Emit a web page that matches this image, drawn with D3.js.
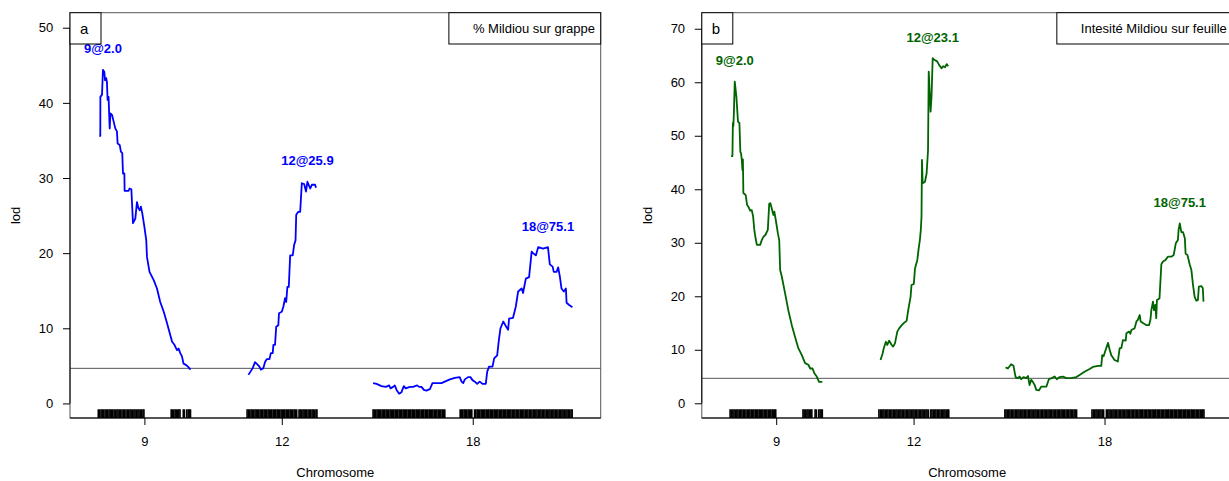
<!DOCTYPE html>
<html><head><meta charset="utf-8">
<script src="https://cdn.jsdelivr.net/npm/d3@7"></script>
<style>
body{margin:0;background:#fff;}
svg{display:block;font-family:"Liberation Sans",Arial,Helvetica,sans-serif;}
</style>
</head><body>
<svg id="chart" width="1229" height="481"></svg>
<script>
// ---------------- DATA ----------------
const chromosomes = ["9", "12", "18"];
const chromLengths = [39.6, 29.8, 85.6];   // cM
const chromGap = 24.3;                      // cM between chromosomes
const threshold = 4.67;

const markers9 = [0.0,0.6,1.2,1.7,2.3,2.9,3.4,4.0,4.6,5.1,5.7,6.2,6.8,7.4,8.0,8.5,9.1,9.6,10.2,10.8,11.3,11.9,12.5,13.0,13.6,14.1,14.7,15.3,15.8,16.4,17.0,17.5,18.1,18.6,19.2,19.6,
  31.3,31.8,32.4,33.0,33.5,34.1,34.6,35.1,36.5,37.0,38.0,38.6,39.1,39.6];
const markers12 = [0.0,0.6,1.1,1.7,2.2,2.8,3.4,3.9,4.5,5.0,5.6,6.2,6.7,7.3,7.8,8.4,9.0,9.5,10.1,10.6,11.2,11.8,12.3,12.9,13.4,14.0,14.6,15.1,15.7,16.2,16.8,17.4,17.9,18.5,19.0,19.6,20.2,20.7,21.3,
  22.3,22.8,23.4,24.0,24.5,25.1,25.6,26.2,26.8,27.3,27.9,28.4,29.0,29.6,30.0];
const markers18 = [0.0,0.5,1.1,1.7,2.2,2.8,3.3,3.9,4.5,5.0,5.6,6.1,6.7,7.3,7.8,8.4,8.9,9.5,10.1,10.6,11.2,11.7,12.3,12.9,13.4,14.0,14.5,15.1,15.7,16.2,16.8,17.3,17.9,18.5,19.0,19.6,20.1,20.7,21.3,21.8,22.4,22.9,23.5,24.1,24.6,25.2,25.7,26.3,26.9,27.4,28.0,28.5,29.1,29.7,30.2,30.8,
  37.4,38.0,38.5,39.1,39.6,40.2,40.8,41.3,41.9,42.4,43.6,44.1,44.7,45.2,45.8,46.4,46.9,47.5,48.0,48.6,49.2,49.7,50.3,50.8,51.4,52.0,52.5,53.1,53.6,54.2,54.8,55.3,55.9,56.4,57.0,57.6,58.1,58.7,59.2,59.8,60.4,60.9,61.5,62.0,62.6,63.2,63.7,64.3,64.8,65.4,66.0,66.5,67.1,67.6,68.2,68.8,69.3,69.9,70.4,71.0,71.6,72.1,72.7,73.2,73.8,74.4,74.9,75.5,76.0,76.6,77.2,77.7,78.3,78.8,79.4,80.0,80.5,81.1,81.6,82.2,82.8,83.3,83.9,84.4,85.0,85.5];

// panel a : % Mildiou sur grappe  [cM, lod]
const grappe9 = [[0.43,35.6],[0.86,35.6],[0.9,40.8],[1.6,41.1],[2.0,44.4],[2.6,44.1],[2.9,43.0],[3.4,43.3],[3.7,42.8],[4.0,40.4],[4.4,40.8],[4.9,36.6],[5.2,38.6],[5.9,38.4],[6.6,37.5],[7.3,36.6],[8.0,36.2],[8.3,34.6],[9.2,34.4],[9.7,33.5],[10.3,33.3],[10.6,30.6],[11.2,30.6],[11.3,28.3],[13.0,28.3],[13.4,28.6],[14.2,28.5],[14.9,24.0],[15.9,24.6],[16.6,26.8],[17.2,26.0],[17.8,25.7],[18.3,26.2],[18.9,25.3],[19.8,23.5],[20.6,21.7],[20.9,19.5],[22.0,17.5],[23.8,16.4],[25.2,15.3],[26.6,13.5],[28.1,12.2],[29.5,10.7],[30.9,9.1],[31.7,8.2],[32.7,7.8],[33.8,7.1],[34.5,7.3],[35.2,6.7],[35.9,6.3],[36.6,5.3],[37.8,5.1],[38.8,4.8],[39.6,4.5]];
const grappe12 = [[0.56,3.8],[1.6,4.3],[2.4,4.7],[3.4,5.5],[4.4,5.2],[5.3,4.9],[5.9,4.5],[7.0,4.7],[7.7,5.5],[8.5,5.9],[9.6,5.9],[10.2,6.7],[11.0,6.7],[11.3,7.8],[12.0,7.8],[12.5,10.2],[13.4,10.4],[13.7,12.0],[14.9,12.2],[15.6,12.9],[16.3,14.0],[16.8,13.5],[17.3,15.5],[17.9,15.5],[18.5,19.7],[19.6,19.7],[20.2,21.1],[20.8,21.7],[21.1,25.1],[22.0,25.5],[22.8,25.5],[23.5,29.3],[24.5,29.2],[25.3,28.2],[25.9,29.5],[27.1,28.6],[27.8,29.1],[29.2,29.1],[29.6,28.7]];
const grappe18 = [[0.0,2.7],[1.5,2.6],[3.6,2.3],[5.5,2.2],[6.9,2.4],[7.5,2.0],[8.6,2.2],[9.3,2.4],[10.1,1.8],[11.2,1.3],[12.2,1.5],[13.2,2.3],[14.0,2.0],[15.8,2.2],[17.2,2.2],[18.9,2.4],[19.8,2.2],[20.8,2.2],[21.8,1.8],[22.9,1.7],[24.4,1.9],[25.5,2.7],[27.2,2.7],[29.4,2.7],[30.8,2.9],[33.0,3.2],[35.1,3.4],[37.2,3.5],[38.0,2.9],[38.7,2.7],[39.4,3.2],[40.8,3.5],[41.8,3.5],[42.7,3.1],[43.7,2.9],[44.7,2.6],[45.8,2.9],[47.0,2.6],[48.4,2.6],[49.0,4.2],[49.8,4.9],[51.3,4.9],[52.0,6.0],[53.3,6.4],[54.0,8.4],[54.7,10.0],[55.9,10.9],[57.0,10.3],[58.0,9.8],[58.4,11.3],[60.1,11.4],[61.3,12.9],[62.3,14.9],[63.8,15.3],[64.4,14.7],[65.6,16.6],[67.0,16.8],[68.1,20.2],[68.7,20.0],[69.9,19.7],[70.9,20.8],[73.0,20.6],[75.1,20.8],[75.9,18.5],[77.1,18.2],[77.6,17.5],[78.8,17.5],[79.5,18.1],[80.2,16.9],[80.9,15.3],[81.9,14.9],[82.8,15.3],[83.1,13.4],[84.2,13.1],[85.6,12.8]];

// panel b : Intesité Mildiou sur feuille  [cM, lod]
const feuille9 = [[0.43,46.2],[1.0,46.2],[1.2,52.4],[1.4,51.8],[1.6,53.9],[2.0,60.1],[2.7,57.3],[3.4,52.6],[4.0,52.4],[4.4,47.0],[4.7,46.7],[5.0,45.6],[5.3,43.6],[5.5,45.6],[5.7,39.3],[6.7,38.9],[7.3,37.1],[7.9,36.7],[8.6,36.0],[9.3,36.1],[9.9,34.9],[10.4,32.4],[11.0,30.7],[11.5,29.6],[12.9,29.6],[13.6,30.5],[14.3,31.1],[15.2,31.5],[16.2,32.4],[16.8,37.3],[17.3,37.4],[17.9,36.4],[18.6,35.2],[19.0,35.8],[19.6,34.3],[20.5,31.8],[21.1,30.5],[21.5,24.9],[22.2,23.7],[23.6,20.6],[25.0,17.4],[26.5,14.6],[27.9,12.4],[29.3,10.3],[30.8,9.0],[32.2,7.5],[33.6,7.2],[34.4,6.5],[35.4,6.5],[36.2,5.6],[37.2,5.0],[38.2,4.0],[39.6,4.0]];
const feuille12 = [[0.7,8.1],[1.6,9.3],[2.1,10.3],[3.0,11.5],[3.6,10.9],[4.4,11.7],[5.5,10.9],[6.1,10.6],[6.9,11.2],[7.9,13.4],[8.7,14.0],[9.8,14.6],[10.7,15.0],[11.9,15.4],[12.6,17.4],[13.6,19.9],[14.0,22.1],[15.0,22.3],[15.5,25.2],[16.5,26.8],[17.1,29.0],[17.6,30.5],[18.0,32.4],[18.3,34.9],[18.5,45.5],[18.8,41.1],[19.8,41.4],[20.5,43.0],[21.1,47.3],[21.4,62.0],[21.9,57.3],[22.2,54.5],[22.6,57.3],[23.1,64.5],[23.8,64.2],[25.0,63.9],[25.9,63.2],[26.9,62.6],[27.6,63.0],[28.4,62.8],[29.1,63.4],[29.8,63.0]];
const feuille18 = [[0.3,6.7],[1.3,6.5],[2.7,7.3],[3.7,7.0],[4.6,4.9],[5.6,4.7],[6.3,5.0],[7.0,4.5],[8.0,4.9],[9.2,4.7],[9.9,5.1],[10.6,3.4],[11.3,4.4],[12.0,4.0],[12.8,3.4],[13.5,2.5],[14.6,2.4],[15.6,3.1],[16.6,3.1],[17.8,3.1],[18.9,4.5],[20.1,4.7],[21.4,5.0],[22.3,4.5],[23.5,4.9],[24.9,5.0],[26.4,4.7],[28.5,4.7],[30.7,4.9],[32.1,5.3],[34.2,5.9],[36.4,6.4],[37.8,6.8],[40.0,7.0],[41.4,7.0],[41.8,9.0],[42.4,8.8],[43.3,10.0],[44.3,11.3],[45.0,10.0],[45.7,9.0],[47.1,8.1],[48.5,7.8],[49.3,10.3],[50.0,10.3],[50.7,11.8],[51.9,11.7],[52.2,13.1],[53.3,13.4],[53.9,13.0],[54.3,13.7],[55.7,14.0],[56.5,15.3],[57.1,15.6],[57.9,16.5],[58.3,15.3],[59.3,15.0],[60.8,14.6],[61.9,14.6],[62.5,15.6],[62.9,17.4],[63.6,19.0],[64.0,17.4],[64.6,18.4],[65.0,15.9],[65.3,19.3],[66.4,19.6],[67.2,26.0],[67.9,26.5],[69.0,26.8],[70.0,27.4],[71.5,27.4],[72.5,27.7],[73.4,29.9],[74.3,30.5],[74.6,32.4],[75.1,33.6],[75.8,32.0],[76.5,32.0],[77.3,30.8],[77.6,28.0],[78.4,27.7],[79.4,25.9],[80.1,24.9],[80.8,22.1],[81.5,19.9],[82.2,19.2],[82.9,19.3],[83.3,21.8],[84.4,21.9],[85.0,21.5],[85.3,19.0]];

const grappePeaks = [["9",2.0,44.4],["12",25.9,29.5],["18",75.1,20.8]];
const feuillePeaks = [["9",2.0,60.1],["12",23.1,64.5],["18",75.1,33.6]];
const grappeYTicks = [0,10,20,30,40,50];
const feuilleYTicks = [0,10,20,30,40,50,60,70];
const grappeYDomain = [-1.94, 52.0];
const feuilleYDomain = [-2.75, 73.0];
const grappeTitle = "% Mildiou sur grappe";
const feuilleTitle = "Intesité Mildiou sur feuille";
const xLabel = "Chromosome";
const yLabel = "lod";

// ---------------- LAYOUT ----------------
const svg = d3.select("#chart");
const plotW = 530.7, plotH = 405.3, plotTop = 12.7;
const markersByChr = [markers9, markers12, markers18];
const offsets = [];
let acc = 0;
chromLengths.forEach((L) => { offsets.push(acc); acc += L + chromGap; });
const totalEnd = acc - chromGap;

const panels = [
  {left: 70, letter: "a", color: "#0000ff", title: grappeTitle, curves: [grappe9, grappe12, grappe18],
   peaks: grappePeaks, yTicks: grappeYTicks, yDomain: grappeYDomain},
  {left: 701.8, letter: "b", color: "#006400", title: feuilleTitle, curves: [feuille9, feuille12, feuille18],
   peaks: feuillePeaks, yTicks: feuilleYTicks, yDomain: feuilleYDomain}
];

panels.forEach(p => {
  const g = svg.append("g").attr("transform", `translate(${p.left},${plotTop})`);
  const x = d3.scaleLinear().domain([-chromGap / 2, totalEnd + chromGap / 2]).range([0, plotW]);
  const y = d3.scaleLinear().domain(p.yDomain).range([plotH, 0]);
  const chrIdx = c => chromosomes.indexOf(c);

  // box
  g.append("rect").attr("x", 0).attr("y", 0).attr("width", plotW).attr("height", plotH)
    .attr("fill", "none").attr("stroke", "#555").attr("stroke-width", 1);

  // threshold
  g.append("line").attr("x1", 0).attr("x2", plotW).attr("y1", y(threshold)).attr("y2", y(threshold))
    .attr("stroke", "#555").attr("stroke-width", 1);

  // rug
  markersByChr.forEach((ms, i) => {
    g.append("g").selectAll("line").data(ms).join("line")
      .attr("x1", d => x(offsets[i] + d)).attr("x2", d => x(offsets[i] + d))
      .attr("y1", plotH - 8.7).attr("y2", plotH)
      .attr("stroke", "#000").attr("stroke-width", 1.6);
  });

  // curves
  p.curves.forEach((c, i) => {
    const line = d3.line().x(d => x(offsets[i] + d[0])).y(d => y(d[1]));
    g.append("path").datum(c).attr("d", line).attr("fill", "none")
      .attr("stroke", p.color).attr("stroke-width", 1.8).attr("stroke-linejoin", "round");
  });

  // peak labels
  g.append("g").selectAll("text").data(p.peaks).join("text")
    .attr("x", d => x(offsets[chrIdx(d[0])] + d[1]))
    .attr("y", d => y(d[2]) - 16.5)
    .attr("text-anchor", "middle").attr("font-size", 13).attr("font-weight", "bold")
    .attr("fill", p.color).text(d => `${d[0]}@${d[1].toFixed(1)}`);

  // y axis
  const yAxis = d3.axisLeft(y).tickValues(p.yTicks).tickSize(7).tickPadding(9.7).tickFormat(d3.format("d"));
  const ya = g.append("g").call(yAxis).attr("font-size", 13).attr("font-family", null);
  ya.select(".domain").remove();
  ya.selectAll("line").attr("stroke", "#000");
  ya.selectAll("text").attr("fill", "#000");
  g.append("line").attr("x1", 0).attr("x2", 0)
    .attr("y1", y(d3.min(p.yTicks))).attr("y2", y(d3.max(p.yTicks))).attr("stroke", "#000");

  // x axis
  const mids = chromosomes.map((c, i) => offsets[i] + chromLengths[i] / 2);
  const xAxis = d3.axisBottom(x).tickValues(mids).tickSize(7).tickPadding(11.8)
    .tickFormat((d, i) => chromosomes[i]);
  const xa = g.append("g").attr("transform", `translate(0,${plotH})`).call(xAxis)
    .attr("font-size", 13).attr("font-family", null);
  xa.select(".domain").remove();
  xa.selectAll("line").attr("stroke", "#000");
  xa.selectAll("text").attr("fill", "#000");
  g.append("line").attr("x1", 0).attr("x2", plotW).attr("y1", plotH).attr("y2", plotH).attr("stroke", "#000");

  // letter box
  const lb = g.append("g");
  lb.append("rect").attr("x", 0).attr("y", 0).attr("width", 31).attr("height", 31.3)
    .attr("fill", "#fff").attr("stroke", "#000").attr("stroke-width", 1);
  lb.append("text").attr("x", 10).attr("y", 21.8).attr("font-size", 15).text(p.letter);

  // legend box (topright)
  const leg = g.append("g");
  const legRect = leg.append("rect");
  const lt = leg.append("text").attr("y", 20.6).attr("font-size", 13).text(p.title);
  const tw = lt.node().getComputedTextLength();
  const bw = tw + 24 + 5.7;
  legRect.attr("x", plotW - bw).attr("y", 0).attr("width", bw).attr("height", 31.3)
    .attr("fill", "#fff").attr("stroke", "#000").attr("stroke-width", 1);
  lt.attr("x", plotW - bw + 24);

  // axis titles
  g.append("text").attr("x", plotW / 2).attr("y", 477 - plotTop).attr("text-anchor", "middle")
    .attr("font-size", 13).text(xLabel);
  g.append("text").attr("transform", `translate(-50,${plotH / 2}) rotate(-90)`)
    .attr("text-anchor", "middle").attr("font-size", 13).text(yLabel);
});
</script>
</body></html>
